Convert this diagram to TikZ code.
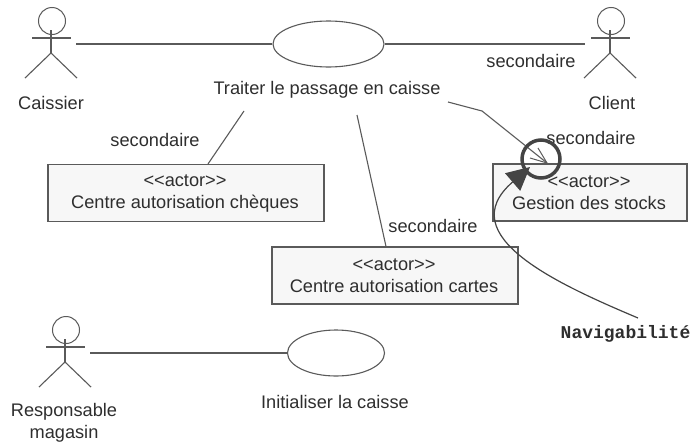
\documentclass[tikz,border=0pt]{standalone}
\usepackage{fontspec}
\setmainfont{Liberation Sans}
\setmonofont{Liberation Mono}
\usepackage{xcolor}
\usetikzlibrary{shapes.geometric,arrows.meta,positioning}
\definecolor{trait}{HTML}{5A5A5A}
\definecolor{encre}{HTML}{2E2E2E}
\definecolor{fond}{HTML}{F7F7F7}
\definecolor{fonce}{HTML}{444444}
\tikzset{
	lien/.style={draw=trait,line width=1.1pt},
	cas/.style={ellipse,draw=trait,line width=1.1pt,fill=white,inner sep=0pt},
	classe/.style={rectangle,draw=trait,line width=1.1pt,fill=fond,inner sep=0pt},
	texte/.style={text=encre,font=\fontsize{18.2}{22}\selectfont,inner sep=0pt,align=center},
	acteur/.style={minimum width=50pt,minimum height=10pt,inner sep=0pt},
}
% bonhomme : nom, x, y du centre
\newcommand{\bonhomme}[3]{
	\node[acteur] at (#2,#3) (#1) {};
	\node[circle,draw=trait,line width=1pt,minimum size=27pt,inner sep=0pt] at (#2+1,#3-23) (#1tete) {};
	\draw[lien] (#2-19,#3-6)--(#2+20,#3-6);
	\draw[lien] (#2,#3-14)--(#2,#3+9);
	\draw[lien] (#2-26,#3+34)--(#2,#3+9)--(#2+26,#3+34);
}
\begin{document}
\begin{tikzpicture}[x=1pt,y=-1pt]
	\useasboundingbox (0,0) rectangle (700,442);
	\bonhomme{caissier}{51}{44}
	\bonhomme{client}{610}{44}
	\bonhomme{responsable}{65}{353}
	\node[cas,minimum width=111pt,minimum height=46pt] at (328.5,44) (traiter) {};
	\node[cas,minimum width=97pt,minimum height=46pt] at (336,353) (initialiser) {};
	\node[texte] at (327,89.5) (traiterlabel) {Traiter le passage en caisse};
	\node[texte] at (335,402) (initialiserlabel) {Initialiser la caisse};
	\node[texte] at (51,103) (caissierlabel) {Caissier};
	\node[texte] at (612,103) (clientlabel) {Client};
	\node[texte] at (64,423) (responsablelabel) {Responsable\\magasin};
	\node[classe,minimum width=276pt,minimum height=57pt] at (186,193) (cheques) {};
	\node[classe,minimum width=246pt,minimum height=57pt] at (395,275.5) (cartes) {};
	\node[classe,minimum width=194pt,minimum height=57pt] at (590,192.5) (stocks) {};
	\node[texte] at (185,194) (chequeslabel) {<{}<actor>{}>\\Centre autorisation chèques};
	\node[texte] at (394,276) (carteslabel) {<{}<actor>{}>\\Centre autorisation cartes};
	\node[texte] at (589,193) (stockslabel) {<{}<actor>{}>\\Gestion des stocks};
	\draw[lien] (caissier.east)--(traiter.west);
	\draw[lien] (traiter.east)--(client.west);
	\draw[lien] (responsable.east)--(initialiser.west);
	\coordinate (depart1) at (244,111);
	\coordinate (depart2) at (357,115);
	\coordinate (depart3) at (448,102);
	\coordinate (coude) at (482,111);
	\coordinate (pointe) at (547,163);
	\draw[lien] (depart1)--([xshift=22pt]cheques.north);
	\draw[lien] (depart2)--([xshift=-9pt]cartes.north);
	\draw[lien] (depart3)--(coude)--(pointe);
	\draw[lien,line width=1pt] (538,148)--(pointe) (530,158)--(pointe);
	\node[texte] at (155,140) (sec1) {secondaire};
	\node[texte] at (433,226) (sec2) {secondaire};
	\node[texte] at (531,61) (sec3) {secondaire};
	\node[texte] at (591,138) (sec4) {secondaire};
	\node[circle,draw=fonce,line width=3.5pt,minimum size=38pt,inner sep=0pt] at (541,159) (rond) {};
	\node[font=\ttfamily\bfseries\fontsize{18}{22}\selectfont,text=encre,inner sep=0pt] at (625.5,334) (navigabilite) {Navigabilité};
	\coordinate (bout) at (638,318);
	\draw[draw=fonce,line width=1.2pt,-{Triangle[length=23pt,width=23pt]}] (bout) .. controls (560,285) and (450,236) .. (530,167);
\end{tikzpicture}
\end{document}
